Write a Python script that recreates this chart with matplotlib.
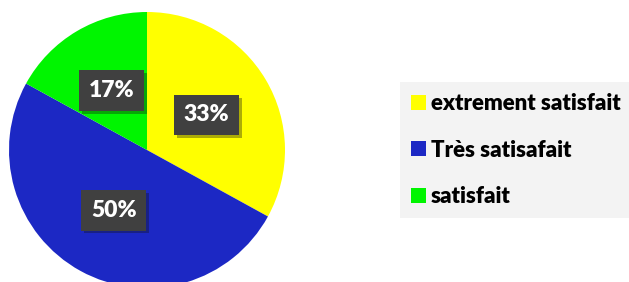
import matplotlib
matplotlib.use("Agg")
import matplotlib.pyplot as plt
import matplotlib.patheffects as pe

# satisfaction survey
labels = ["extrement satisfait", "Très satisafait", "satisfait"]
parts = [33, 50, 17]
colors = ["#FFFF00", "#1C28C4", "#00F500"]

W, H = 629, 282
fig = plt.figure(figsize=(W / 100, H / 100), dpi=100)
fig.patch.set_facecolor("white")

# pie centre at (147, 150) px from top, radius ~138 px
cx, cy, r = 147, H - 150, 138
ax = fig.add_axes([(cx - r) / W, (cy - r) / H, 2 * r / W, 2 * r / H])
wedges, texts, autotexts = ax.pie(parts, colors=colors, startangle=90, counterclock=False,
                                  autopct="%1.0f%%", pctdistance=0.5, radius=1,
                                  wedgeprops=dict(linewidth=0))
ax.set_xlim(-1, 1)
ax.set_ylim(-1, 1)
ax.set_aspect("equal")

for t in autotexts:
    t.set_color("white")
    t.set_fontsize(16.5)
    t.set_fontweight("heavy")
    t.set_family("Lato")
    t.set_bbox(dict(boxstyle="square,pad=0.42", facecolor="#404040", edgecolor="none",
                    path_effects=[pe.SimplePatchShadow(offset=(2, -2), alpha=0.35), pe.Normal()]))

leg = fig.legend(wedges, labels, loc="upper left", bbox_to_anchor=(400 / W, 1 - 82 / H),
                 frameon=True, fancybox=False, handlelength=0.65, handleheight=0.65,
                 handletextpad=0.25, labelspacing=1.15, borderpad=0.5, borderaxespad=0,
                 prop=dict(family="Lato", weight="heavy", size=16))
leg.get_frame().set_facecolor("#F3F3F3")
leg.get_frame().set_edgecolor("none")
leg.get_frame().set_alpha(1)

fig.savefig("out.png", dpi=100)
